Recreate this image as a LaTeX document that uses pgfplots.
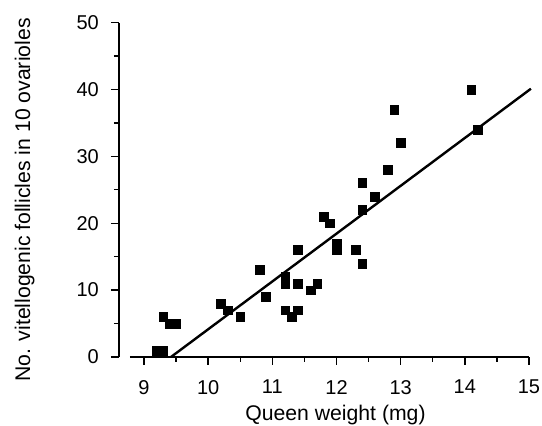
\documentclass[border=0pt]{standalone}
\usepackage{fontspec}
\setmainfont{Liberation Sans}
\usepackage{pgfplots}
\pgfplotsset{compat=1.18}
\begin{document}
\begin{tikzpicture}
\begin{axis}[
  name=ax,
  scale only axis, width=410pt, height=334.5pt,
  xmin=8.61, xmax=15, ymin=0, ymax=50,
  axis lines*=left,
  axis line style={line width=1.6pt},
  x axis line style={draw=none},
  xtick={9,10,...,15}, ytick={0,10,...,50},
  minor x tick num=1, minor y tick num=1,
  tick align=outside, major tick length=8pt, minor tick length=5pt,
  tick style={line width=1.4pt, black},
  /pgf/number format/assume math mode=true,
  ticklabel style={font=\fontsize{20}{24}\selectfont},
  xticklabel style={anchor=north, inner sep=0pt, yshift=-15pt},
  yticklabel style={anchor=east, inner sep=0pt, xshift=-12pt},
  clip=false,
  xlabel={Queen weight (mg)},
  xlabel style={at={(axis description cs:0.528,-0.1913)}, anchor=base, font=\fontsize{21.2}{24}\selectfont},
  ylabel={No. vitellogenic follicles in 10 ovarioles},
  ylabel style={at={(axis description cs:-0.217,0.469)}, anchor=base, rotate=0, font=\fontsize{21.2}{24}\selectfont},
]
\draw[line width=1.6pt] (axis cs:8.78,0) -- (axis cs:15,0);
\addplot[black, line width=2.4pt, no marks] coordinates {(9.42,0) (15.03,40.1)};
\addplot[only marks, mark=square*, mark size=4.4pt, black] coordinates {
(9.2,1) (9.3,1) (9.3,6) (9.4,5) (9.5,5)
(10.2,8) (10.3,7) (10.5,6) (10.8,13) (10.9,9)
(11.2,12) (11.2,11) (11.2,7) (11.3,6) (11.4,7) (11.4,11) (11.4,16)
(11.6,10) (11.7,11) (11.8,21) (11.9,20) (12.0,17) (12.0,16)
(12.3,16) (12.4,14) (12.4,22) (12.4,26) (12.6,24) (12.8,28)
(12.9,37) (13.0,32) (14.1,40) (14.2,34)
};
\end{axis}
\pgfresetboundingbox
\path[use as bounding box] (ax.south west) ++(-119pt,-69pt) rectangle ++(542pt,426pt);
\end{tikzpicture}
\end{document}
